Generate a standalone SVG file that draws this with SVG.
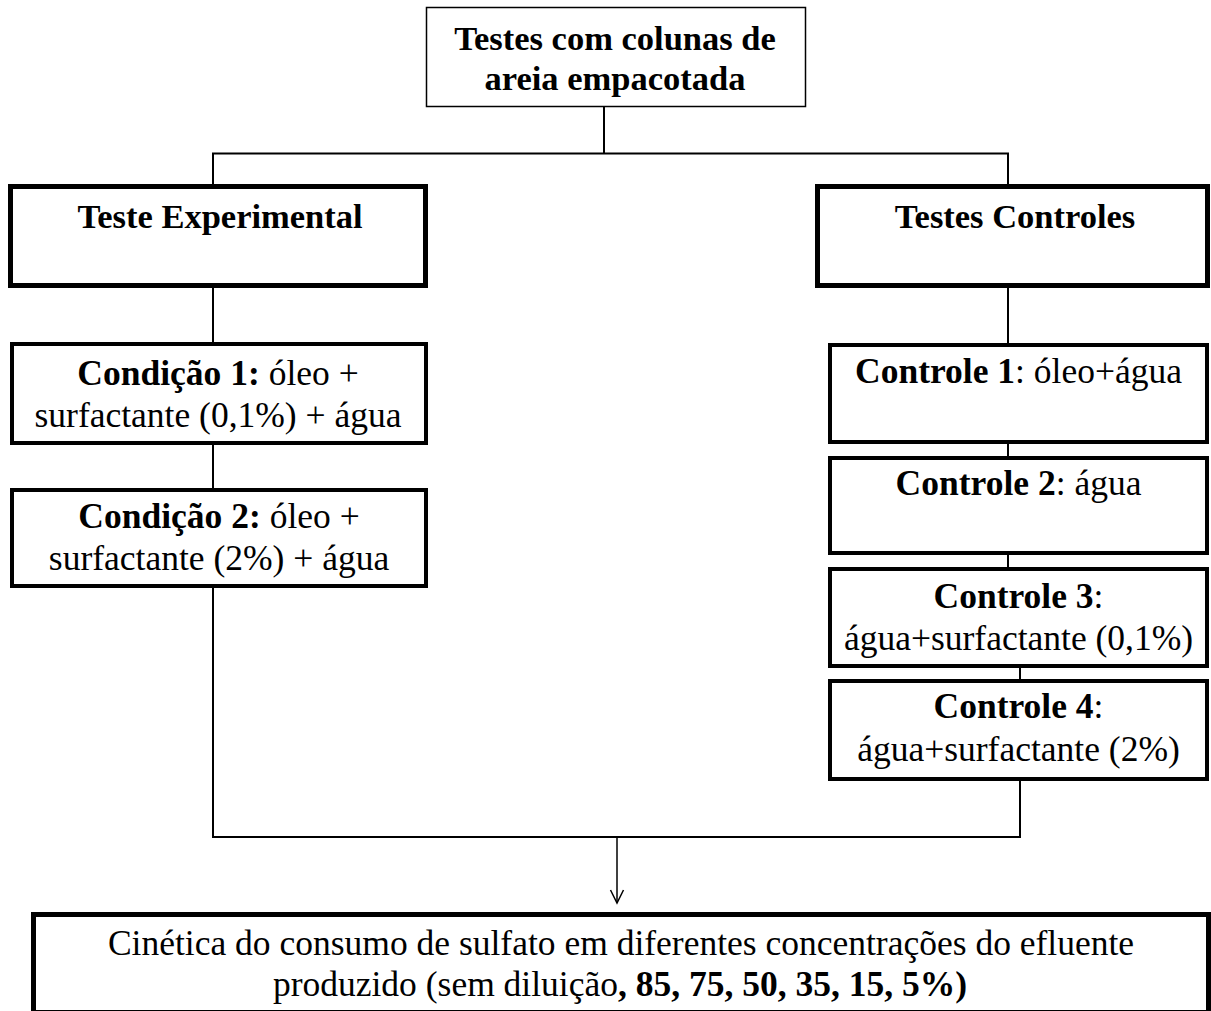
<svg xmlns="http://www.w3.org/2000/svg" width="1211" height="1011" viewBox="0 0 1211 1011">
<style>
  text { font-family: "Liberation Serif", "Times New Roman", serif; fill: #000; text-anchor: middle; }
  .h { font-size: 34.5px; font-weight: bold; }
  .t { font-size: 35.5px; }
  .b { font-weight: bold; }
  .thin { fill: #fff; stroke: #000; stroke-width: 1.5; }
  .thick { fill: #fff; stroke: #000; stroke-width: 5; }
  .mid { fill: #fff; stroke: #000; stroke-width: 4; }
  .conn { fill: none; stroke: #000; stroke-width: 2; }
</style>
<defs>
  <marker id="arrow" markerUnits="userSpaceOnUse" markerWidth="16" markerHeight="16" viewBox="-14 -8 16 16" refX="0" refY="0" orient="auto" overflow="visible">
    <path d="M-13,-6.5 L0,0 L-13,6.5" fill="none" stroke="#000" stroke-width="1.5"/>
  </marker>
</defs>
<rect width="1211" height="1011" fill="#fff"/>

<g id="connectors">
  <line class="conn" x1="604" y1="107" x2="604" y2="153.5"/>
  <line class="conn" x1="212" y1="153.5" x2="1009" y2="153.5"/>
  <line class="conn" x1="213" y1="153.5" x2="213" y2="184"/>
  <line class="conn" x1="1008" y1="153.5" x2="1008" y2="184"/>
  <line class="conn" x1="213" y1="288" x2="213" y2="342"/>
  <line class="conn" x1="213" y1="445" x2="213" y2="488"/>
  <line class="conn" x1="213" y1="588" x2="213" y2="837"/>
  <line class="conn" x1="1008" y1="288" x2="1008" y2="343"/>
  <line class="conn" x1="1008" y1="444" x2="1008" y2="456"/>
  <line class="conn" x1="1008" y1="555" x2="1008" y2="567"/>
  <line class="conn" x1="1020" y1="668" x2="1020" y2="679"/>
  <line class="conn" x1="1020" y1="781" x2="1020" y2="837"/>
  <line class="conn" x1="212" y1="837" x2="1021" y2="837"/>
  <line class="conn" x1="617" y1="837" x2="617" y2="903" style="stroke-width:1.5" marker-end="url(#arrow)"/>
</g>

<g id="node-top">
  <rect class="thin" x="426.5" y="7.5" width="379" height="99"/>
  <text class="h" x="615" y="50">Testes com colunas de</text>
  <text class="h" x="615" y="90">areia empacotada</text>
</g>

<g id="node-experimental">
  <rect class="thick" x="10.5" y="186.5" width="415" height="99"/>
  <text class="h" x="220" y="228">Teste Experimental</text>
</g>

<g id="node-controles">
  <rect class="thick" x="817.5" y="186.5" width="390" height="99"/>
  <text class="h" x="1015" y="228">Testes Controles</text>
</g>

<g id="node-condicao1">
  <rect class="mid" x="12" y="344" width="414" height="99"/>
  <text class="t" x="218" y="385"><tspan class="b">Condição 1:</tspan> óleo +</text>
  <text class="t" x="218" y="427">surfactante (0,1%) + água</text>
</g>

<g id="node-condicao2">
  <rect class="mid" x="12" y="490" width="414" height="96"/>
  <text class="t" x="219" y="528"><tspan class="b">Condição 2:</tspan> óleo +</text>
  <text class="t" x="219" y="570">surfactante (2%) + água</text>
</g>

<g id="node-controle1">
  <rect class="mid" x="830" y="345" width="377" height="97"/>
  <text class="t" x="1018.5" y="383"><tspan class="b">Controle 1</tspan>: óleo+água</text>
</g>

<g id="node-controle2">
  <rect class="mid" x="830" y="458" width="377" height="95"/>
  <text class="t" x="1018.5" y="495"><tspan class="b">Controle 2</tspan>: água</text>
</g>

<g id="node-controle3">
  <rect class="mid" x="830" y="569" width="377" height="97"/>
  <text class="t" x="1018.5" y="608"><tspan class="b">Controle 3</tspan>:</text>
  <text class="t" x="1018.5" y="650">água+surfactante (0,1%)</text>
</g>

<g id="node-controle4">
  <rect class="mid" x="830" y="681" width="377" height="98"/>
  <text class="t" x="1018.5" y="718"><tspan class="b">Controle 4</tspan>:</text>
  <text class="t" x="1018.5" y="761">água+surfactante (2%)</text>
</g>

<g id="node-cinetica">
  <rect class="thick" x="33.5" y="914.5" width="1175" height="98"/>
  <text class="t" x="621" y="955">Cinética do consumo de sulfato em diferentes concentrações do efluente</text>
  <text class="t" x="620" y="996">produzido (sem diluição<tspan class="b">, 85, 75, 50, 35, 15, 5%)</tspan></text>
</g>
</svg>
